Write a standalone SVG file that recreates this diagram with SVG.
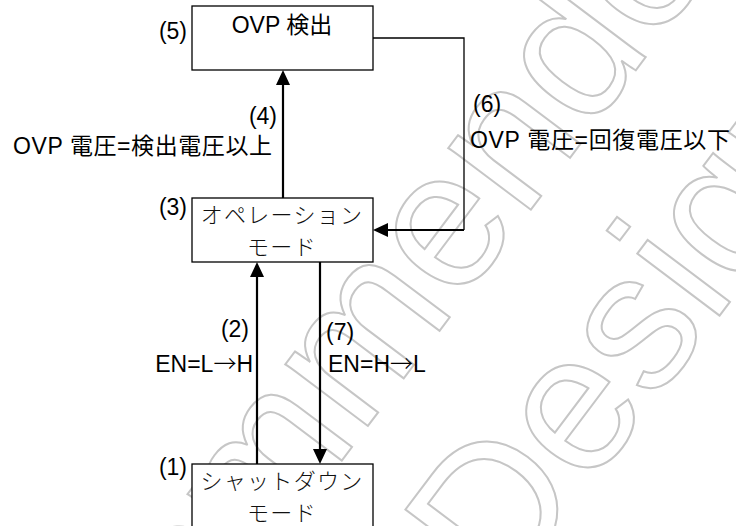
<svg xmlns="http://www.w3.org/2000/svg" width="736" height="526" viewBox="0 0 736 526">
<style>
.box{fill:#fff;stroke:#000;stroke-width:1.3}
.lbl{font-family:"Liberation Sans","Noto Sans CJK JP",sans-serif;font-size:23px;fill:#000}
.ar{font-family:"Noto Sans CJK JP",sans-serif;font-weight:200}
.jp{font-family:"Noto Sans CJK JP",sans-serif;font-size:22px;font-weight:300;fill:#111}
.thick{fill:none;stroke:#000;stroke-width:2.2}
.thin{fill:none;stroke:#000;stroke-width:1.3}
.wm{font-family:"Liberation Sans",sans-serif;font-size:195px;fill:none;stroke:#c6c6c6;stroke-width:2}
</style>
<defs>
<marker id="arr" markerUnits="userSpaceOnUse" markerWidth="16" markerHeight="16" refX="7" refY="7" orient="auto">
<path d="M0,0 L15,7 L0,14 z" fill="#000"/>
</marker>
</defs>
<rect width="736" height="526" fill="#fff"/>
<g id="watermark">
<text class="wm" transform="translate(-12,930) rotate(-53)">Recommended</text>
<text class="wm" transform="translate(503,603) rotate(-53)">Design</text>
</g>
<g id="connectors">
<line class="thick" x1="283" y1="198" x2="283" y2="78" marker-end="url(#arr)"/>
<polyline class="thin" points="373,38 464,38 464,230"/>
<line class="thick" x1="464" y1="230" x2="381" y2="230" marker-end="url(#arr)"/>
<line class="thick" x1="257" y1="464" x2="257" y2="270" marker-end="url(#arr)"/>
<line class="thick" x1="320" y1="262" x2="320" y2="456" marker-end="url(#arr)"/>
<text class="lbl" x="277" y="124" text-anchor="end">(4)</text>
<text class="lbl" x="13" y="154" textLength="259" lengthAdjust="spacing">OVP 電圧=検出電圧以上</text>
<text class="lbl" x="473" y="112">(6)</text>
<text class="lbl" x="470" y="148" textLength="260" lengthAdjust="spacing">OVP 電圧=回復電圧以下</text>
<text class="lbl" x="249" y="337" text-anchor="end">(2)</text>
<text class="lbl" x="253" y="371.5" text-anchor="end">EN=L<tspan class="ar">→</tspan>H</text>
<text class="lbl" x="326" y="340">(7)</text>
<text class="lbl" x="328" y="371.5">EN=H<tspan class="ar">→</tspan>L</text>
</g>
<g id="node-ovp">
<rect class="box" x="192" y="6" width="181" height="64"/>
<text class="lbl" x="282" y="33" text-anchor="middle">OVP 検出</text>
<text class="lbl" x="187" y="38.5" text-anchor="end">(5)</text>
</g>
<g id="node-operation">
<rect class="box" x="192" y="198" width="181" height="64"/>
<text class="jp" x="282" y="223" text-anchor="middle" letter-spacing="1.3">オペレーション</text>
<text class="jp" x="282" y="255" text-anchor="middle" letter-spacing="1.3">モード</text>
<text class="lbl" x="187" y="214.5" text-anchor="end">(3)</text>
</g>
<g id="node-shutdown">
<rect class="box" x="192" y="464" width="181" height="80"/>
<text class="jp" x="282" y="489" text-anchor="middle" letter-spacing="1.3">シャットダウン</text>
<text class="jp" x="282" y="521" text-anchor="middle" letter-spacing="1.3">モード</text>
<text class="lbl" x="187" y="475" text-anchor="end">(1)</text>
</g>
</svg>
